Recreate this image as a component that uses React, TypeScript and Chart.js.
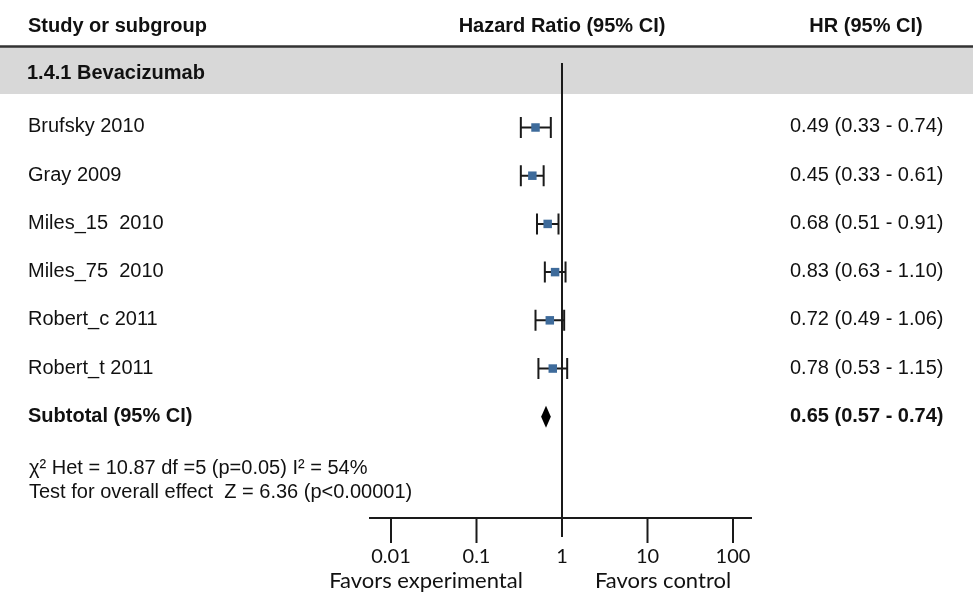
import React, { useEffect, useRef } from "react";
import { Chart, registerables } from "chart.js";

Chart.register(...registerables);

const STUDIES = ["Brufsky 2010", "Gray 2009", "Miles_15  2010", "Miles_75  2010", "Robert_c 2011", "Robert_t 2011"];
const HR = [0.49, 0.45, 0.68, 0.83, 0.72, 0.78];
const LOWER = [0.33, 0.33, 0.51, 0.63, 0.49, 0.53];
const UPPER = [0.74, 0.61, 0.91, 1.1, 1.06, 1.15];

const SUBTOTAL_LABEL = "Subtotal (95% CI)";
const SUBTOTAL_HR = 0.65;
const SUBTOTAL_LOWER = 0.57;
const SUBTOTAL_UPPER = 0.74;

const SUBGROUP = "1.4.1 Bevacizumab";
const HEADERS = ["Study or subgroup", "Hazard Ratio (95% CI)", "HR (95% CI)"];
const STATS = ["χ² Het = 10.87 df =5 (p=0.05) I² = 54%", "Test for overall effect  Z = 6.36 (p<0.00001)"];

const TICK_VALUES = [0.01, 0.1, 1, 10, 100];
const TICK_LABELS = ["0.01", "0.1", "1", "10", "100"];
const FAVORS = ["Favors experimental", "Favors control"];

const fmt = (h: number, l: number, u: number) => `${h.toFixed(2)} (${l.toFixed(2)} - ${u.toFixed(2)})`;

export default function App() {
  const ref = useRef<HTMLCanvasElement | null>(null);

  useEffect(() => {
    document.body.style.margin = "0";
    const canvas = ref.current;
    if (!canvas) return;

    const forestPlugin = {
      id: "forest",
      beforeDatasetsDraw(chart: any) {
        const ctx = chart.ctx as CanvasRenderingContext2D;
        const xs = chart.scales.x;
        const ys = chart.scales.y;
        const W = chart.width;
        const dark = "#1a1a1a";
        const x1 = xs.getPixelForValue(1);

        ctx.save();
        // subgroup band
        ctx.fillStyle = "#d8d8d8";
        ctx.fillRect(0, 47, W, 47);
        ctx.strokeStyle = "#333";
        ctx.lineWidth = 2.5;
        ctx.beginPath();
        ctx.moveTo(0, 46.5);
        ctx.lineTo(W, 46.5);
        ctx.stroke();

        // headers
        ctx.fillStyle = "#111";
        ctx.font = "bold 20px 'Liberation Sans', Arial, sans-serif";
        ctx.textBaseline = "alphabetic";
        ctx.textAlign = "left";
        ctx.fillText(HEADERS[0], 28, 32);
        ctx.textAlign = "center";
        ctx.fillText(HEADERS[1], x1, 32);
        ctx.fillText(HEADERS[2], 866, 32);
        ctx.textAlign = "left";
        ctx.fillText(SUBGROUP, 27, 79);

        // vertical line at 1
        ctx.strokeStyle = dark;
        ctx.lineWidth = 2;
        ctx.beginPath();
        ctx.moveTo(x1, 63);
        ctx.lineTo(x1, 537);
        ctx.stroke();

        // axis
        const axisY = 518;
        ctx.beginPath();
        ctx.moveTo(chart.chartArea.left, axisY);
        ctx.lineTo(chart.chartArea.right, axisY);
        ctx.stroke();
        TICK_VALUES.forEach((v) => {
          if (v === 1) return;
          const px = xs.getPixelForValue(v);
          ctx.beginPath();
          ctx.moveTo(px, axisY);
          ctx.lineTo(px, 543);
          ctx.stroke();
        });
        ctx.font = "20px Lato, 'Open Sans', sans-serif";
        ctx.textAlign = "center";
        ctx.fillStyle = "#111";
        TICK_VALUES.forEach((v, i) => {
          ctx.fillText(TICK_LABELS[i], xs.getPixelForValue(v), 563);
        });
        ctx.font = "22px Lato, 'Open Sans', sans-serif";
        ctx.fillText(FAVORS[0], 426, 588);
        ctx.fillText(FAVORS[1], 663, 588);

        // study rows
        ctx.font = "20px 'Liberation Sans', Arial, sans-serif";
        STUDIES.forEach((s, i) => {
          const y = ys.getPixelForValue(i);
          ctx.textAlign = "left";
          ctx.fillStyle = "#111";
          ctx.fillText(s, 28, y + 5);
          ctx.fillText(fmt(HR[i], LOWER[i], UPPER[i]), 790, y + 5);
          const lo = xs.getPixelForValue(LOWER[i]);
          const hi = xs.getPixelForValue(UPPER[i]);
          ctx.strokeStyle = dark;
          ctx.lineWidth = 2;
          ctx.beginPath();
          ctx.moveTo(lo, y);
          ctx.lineTo(hi, y);
          ctx.moveTo(lo, y - 10.5);
          ctx.lineTo(lo, y + 10.5);
          ctx.moveTo(hi, y - 10.5);
          ctx.lineTo(hi, y + 10.5);
          ctx.stroke();
        });

        // subtotal
        const sy = ys.getPixelForValue(STUDIES.length);
        ctx.font = "bold 20px 'Liberation Sans', Arial, sans-serif";
        ctx.fillStyle = "#111";
        ctx.fillText(SUBTOTAL_LABEL, 28, sy + 5);
        ctx.fillText(fmt(SUBTOTAL_HR, SUBTOTAL_LOWER, SUBTOTAL_UPPER), 790, sy + 5);
        const dl = xs.getPixelForValue(SUBTOTAL_LOWER);
        const dh = xs.getPixelForValue(SUBTOTAL_UPPER);
        const dc = xs.getPixelForValue(SUBTOTAL_HR);
        ctx.fillStyle = "#000";
        ctx.beginPath();
        ctx.moveTo(dl, sy);
        ctx.lineTo(dc, sy - 11);
        ctx.lineTo(dh, sy);
        ctx.lineTo(dc, sy + 11);
        ctx.closePath();
        ctx.fill();

        // stats
        ctx.font = "20px 'Liberation Sans', Arial, sans-serif";
        ctx.fillStyle = "#111";
        ctx.fillText(STATS[0], 29, 474);
        ctx.fillText(STATS[1], 29, 498);
        ctx.restore();
      },
    };

    const chart = new Chart(canvas, {
      type: "scatter",
      data: {
        datasets: [
          {
            data: HR.map((h, i) => ({ x: h, y: i })),
            pointStyle: "rect",
            radius: 6,
            backgroundColor: "#3e6b9b",
            borderWidth: 0,
          },
        ],
      },
      options: {
        animation: false,
        responsive: false,
        layout: { padding: { left: 369, right: 221, top: 0, bottom: 86 } },
        plugins: { legend: { display: false }, tooltip: { enabled: false } },
        scales: {
          x: { type: "logarithmic", min: 0.00553, max: 166.8, display: false, bounds: "data" },
          y: { type: "linear", min: -2.52, max: 8.1, reverse: true, display: false },
        },
      },
      plugins: [forestPlugin],
    } as any);

    return () => chart.destroy();
  }, []);

  return <canvas ref={ref} width={973} height={604} />;
}
